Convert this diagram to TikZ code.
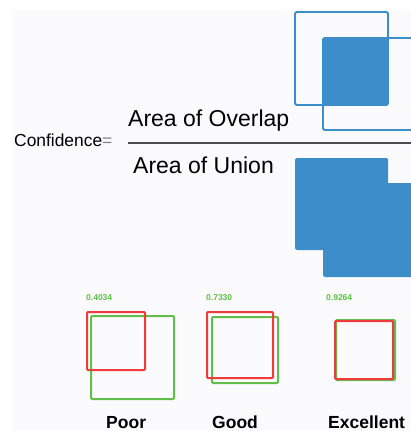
\documentclass[tikz,border=0pt]{standalone}
\usepackage{fontspec}
\setmainfont{Liberation Sans}
\definecolor{boxblue}{HTML}{3E8DCB}
\definecolor{predred}{HTML}{EE3B3B}
\definecolor{truegreen}{HTML}{62BE4A}
\definecolor{paper}{HTML}{FBFBFD}
\definecolor{rulegray}{HTML}{4A4A50}
\begin{document}
\begin{tikzpicture}[x=1pt,y=-1pt,
  bluebox/.style={draw=boxblue,line width=1.8pt,rounded corners=1.5pt},
  bluefill/.style={fill=boxblue,rounded corners=1.5pt},
  redbox/.style={draw=predred,line width=2pt,rounded corners=1pt},
  greenbox/.style={draw=truegreen,line width=2pt,rounded corners=1pt},
  score/.style={text=truegreen,font=\bfseries\fontsize{8.5}{10}\selectfont,inner sep=0pt,anchor=west},
  verdict/.style={font=\bfseries\fontsize{17.5}{20}\selectfont,inner sep=0pt,anchor=base west},
  bigtext/.style={font=\fontsize{23}{27}\selectfont,inner sep=0pt,anchor=base west}]
\useasboundingbox (0,0) rectangle (411,431);
\clip (0,0) rectangle (411,431);
\fill[white] (0,0) rectangle (411,431);
\fill[paper] (12,10) rectangle (411,431);

% overlap: two outlined boxes with the shared region filled
\fill[bluefill] (323,38) rectangle (388,105);
\draw[bluebox] (295,12) rectangle (388,105);
\draw[bluebox] (323,38) rectangle (430,130);

% union: both boxes filled
\fill[bluefill] (295,158) rectangle (388,250);
\fill[bluefill] (323,183) rectangle (430,277);

% formula
\node[font=\fontsize{17.4}{20}\selectfont,inner sep=0pt,anchor=base west] (conf) at (14,146) {Confidence{\color{gray}=}};
\node[bigtext] (num) at (128,126) {Area of Overlap};
\node[bigtext] (den) at (133,173) {Area of Union};
\coordinate (barL) at (128,143);
\coordinate (barR) at (411,143);
\draw[rulegray,line width=1.6pt] (barL) -- (barR);

% example detections
\node[score] (s1) at (86,298) {0.4034};
\node[score] (s2) at (206,298) {0.7330};
\node[score] (s3) at (326,298) {0.9264};

\draw[greenbox] (91,316) rectangle (174,399);
\draw[redbox] (87,312) rectangle (145,370);

\draw[greenbox] (212,317) rectangle (278,383);
\draw[redbox] (207,312) rectangle (273,378);

\draw[greenbox] (336,320) rectangle (395,380);
\draw[redbox] (335,321) rectangle (393,379);

\node[verdict] (poor) at (106,428) {Poor};
\node[verdict] (good) at (212,428) {Good};
\node[verdict] (exc) at (328,428) {Excellent};
\end{tikzpicture}
\end{document}
